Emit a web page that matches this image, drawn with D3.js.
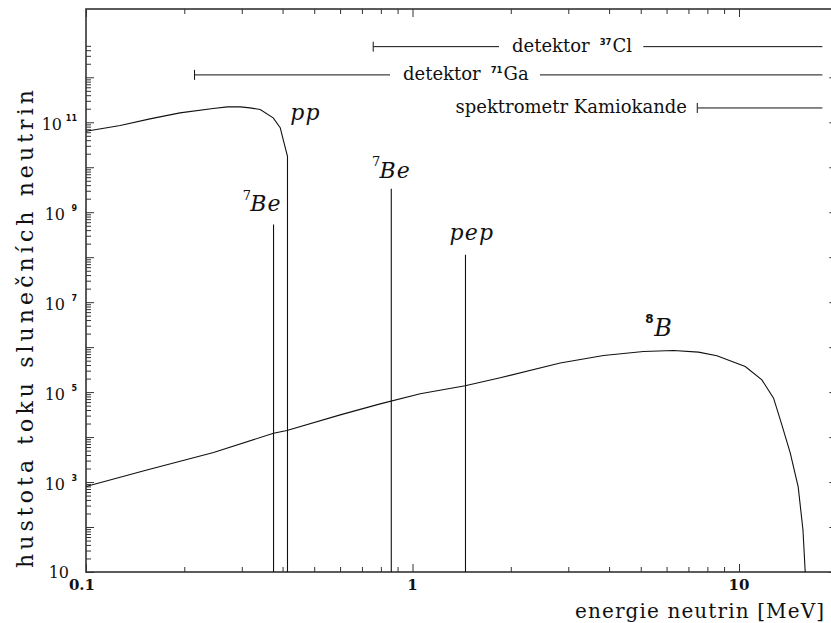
<!DOCTYPE html>
<html><head><meta charset="utf-8">
<script src="https://cdn.jsdelivr.net/npm/d3@7"></script>
<style>html,body{margin:0;padding:0;background:#fff}svg{display:block}</style>
</head><body>
<svg id="c" width="831" height="623"></svg>
<script>
// ---------- data ----------
const ppEnergy = [0.1, 0.1273, 0.157, 0.194, 0.245, 0.271, 0.297, 0.318, 0.3416, 0.3744, 0.3934, 0.4018, 0.4141, 0.4141];
const ppFlux   = [6.3e10, 8.45e10, 1.19e11, 1.62e11, 2.02e11, 2.2e11, 2.2e11, 2.09e11, 1.92e11, 1.25e11, 7.6e10, 4.1e10, 1.75e10, 10];

const b8Energy = [0.1, 0.1536, 0.2458, 0.3753, 0.4124, 0.6006, 0.796, 1.056, 1.45, 1.856, 2.834, 3.846, 5.099, 6.30, 7.516, 8.556, 10.45, 11.75, 12.76, 13.47, 14.35, 15.18, 15.70, 15.95];
const b8Flux   = [800, 1862, 4520, 12200, 13960, 31200, 54800, 91600, 138000, 208000, 442000, 652000, 800000, 841000, 776000, 641000, 371000, 187000, 73400, 20700, 4450, 780, 86, 10];

const lineNames  = ["7Be", "7Be", "pep"];
const lineEnergy = [0.3753, 0.861, 1.453];
const lineFlux   = [5.3e8, 3.34e9, 1.14e8];

const labelText   = ["pp", "Be", "Be", "pep", "B"];
const labelSup    = ["", "7", "7", "", "8"];
const labelEnergy = [0.422, 0.302, 0.751, 1.298, 5.16];
const labelFlux   = [1.11e11, 1.04e9, 5.9e9, 2.45e8, 1.73e6];

const detName    = ["detektor", "detektor", "spektrometr Kamiokande"];
const detIsotope = ["37", "71", ""];
const detElement = ["Cl", "Ga", ""];
const detFrom    = [0.758, 0.215, 7.45];
const detTo      = [18, 18, 18];
const detFlux    = [4.8e12, 1.13e12, 2.08e11];

const xMajorTicks = [0.1, 1, 10];
const xMinorTicks = [0.2,0.3,0.4,0.5,0.6,0.7,0.8,0.9,2,3,4,5,6,7,8,9,20];
const xTickLabels = ["0.1", "1", "10"];
const yMajorTicks = [1e1,1e2,1e3,1e4,1e5,1e6,1e7,1e8,1e9,1e10,1e11,1e12];
const yLabelExp   = [1, 3, 5, 7, 9, 11];
const yMinorTicks = [];
for (let d = 1; d <= 11; d++) for (let k = 2; k <= 9; k++) yMinorTicks.push(k * Math.pow(10, d));
[2,3,4,5].forEach(k => yMinorTicks.push(k * 1e12));

const xTitle = "energie neutrin [MeV]";
const yTitle = "hustota toku slunečních neutrin";

// ---------- scales ----------
const L = 86, R = 837.3, T = 9, B = 572;
const x = d3.scaleLog().domain([0.1, 20]).range([L, R]);
const y = d3.scaleLog().domain([10, 3.3e13]).range([B, T]);

const svg = d3.select("#c");
svg.append("rect").attr("width", 831).attr("height", 623).attr("fill", "#fff");

const serif = "'DejaVu Serif', serif";
const ink = "#111";
const axisInk = "#333";

// ---------- axes (ticks inward) ----------
function strip(g){ g.select(".domain").remove(); g.selectAll("text").remove();
  g.selectAll("line").attr("stroke", axisInk).attr("stroke-width", 1); }

svg.append("g").attr("transform", `translate(${L},0)`)
  .call(d3.axisLeft(y).tickValues(yMajorTicks).tickSize(-8).tickSizeOuter(0)).call(strip);
svg.append("g").attr("transform", `translate(${L},0)`)
  .call(d3.axisLeft(y).tickValues(yMinorTicks).tickSize(-5).tickSizeOuter(0)).call(strip);
svg.append("g").attr("transform", `translate(${R},0)`)
  .call(d3.axisRight(y).tickValues(yMajorTicks).tickSize(-8).tickSizeOuter(0)).call(strip);
svg.append("g").attr("transform", `translate(${R},0)`)
  .call(d3.axisRight(y).tickValues(yMinorTicks).tickSize(-5).tickSizeOuter(0)).call(strip);
svg.append("g").attr("transform", `translate(0,${B})`)
  .call(d3.axisBottom(x).tickValues(xMajorTicks).tickSize(-8).tickSizeOuter(0)).call(strip);
svg.append("g").attr("transform", `translate(0,${B})`)
  .call(d3.axisBottom(x).tickValues(xMinorTicks).tickSize(-5).tickSizeOuter(0)).call(strip);
svg.append("g").attr("transform", `translate(0,${T})`)
  .call(d3.axisTop(x).tickValues(xMajorTicks).tickSize(-8).tickSizeOuter(0)).call(strip);
svg.append("g").attr("transform", `translate(0,${T})`)
  .call(d3.axisTop(x).tickValues(xMinorTicks).tickSize(-5).tickSizeOuter(0)).call(strip);

// frame
svg.append("rect").attr("x", L).attr("y", T).attr("width", R - L).attr("height", B - T)
  .attr("fill", "none").attr("stroke", axisInk).attr("stroke-width", 1.6);

// y tick labels
yLabelExp.forEach(e => {
  const ty = y(Math.pow(10, e));
  if (e === 1) {
    svg.append("text").attr("x", 69).attr("y", ty + 6).attr("text-anchor", "end")
      .attr("font-family", serif).attr("font-size", 16).attr("fill", ink).text("10");
  } else {
    const sup = String(e);
    svg.append("text").attr("x", 77).attr("y", ty - 1.5).attr("text-anchor", "end")
      .attr("font-family", "'DejaVu Sans', sans-serif").attr("font-weight", "bold")
      .attr("font-size", 8).attr("fill", ink).text(sup);
    svg.append("text").attr("x", sup.length > 1 ? 62 : 65).attr("y", ty + 7.5).attr("text-anchor", "end")
      .attr("font-family", serif).attr("font-size", 16).attr("fill", ink).text("10");
  }
});

// x tick labels
xMajorTicks.forEach((v, i) => {
  svg.append("text").attr("x", x(v) + (i === 0 ? -4 : 0)).attr("y", 590)
    .attr("text-anchor", "middle").attr("font-family", serif).attr("font-weight", "bold")
    .attr("font-size", 15).attr("fill", ink).text(xTickLabels[i]);
});

// axis titles
svg.append("text").attr("x", 575).attr("y", 618)
  .attr("font-family", serif).attr("font-size", 20).attr("fill", ink)
  .attr("textLength", 249).attr("lengthAdjust", "spacing").text(xTitle);
svg.append("text").attr("transform", "translate(32.5,568) rotate(-90)")
  .attr("font-family", serif).attr("font-size", 22).attr("fill", ink)
  .attr("textLength", 478).attr("lengthAdjust", "spacing").text(yTitle);

// ---------- curves ----------
const line = d3.line().x(d => x(d[0])).y(d => y(d[1]));
svg.append("path").attr("d", line(ppEnergy.map((e, i) => [e, ppFlux[i]])))
  .attr("fill", "none").attr("stroke", ink).attr("stroke-width", 1.1);
svg.append("path").attr("d", line(b8Energy.map((e, i) => [e, b8Flux[i]])))
  .attr("fill", "none").attr("stroke", ink).attr("stroke-width", 1.1);

// mono-energetic lines
lineEnergy.forEach((e, i) => {
  svg.append("line").attr("x1", x(e)).attr("x2", x(e)).attr("y1", y(lineFlux[i])).attr("y2", B)
    .attr("stroke", ink).attr("stroke-width", 1.1).attr("class", "line-" + lineNames[i]);
});

// labels
labelText.forEach((t, i) => {
  const lx = x(labelEnergy[i]), ly = y(labelFlux[i]);
  let off = 0;
  if (labelSup[i]) {
    const big = labelSup[i] === "8";
    svg.append("text").attr("x", lx).attr("y", ly - (big ? 13.5 : 11.5))
      .attr("font-family", big ? "'DejaVu Sans', sans-serif" : serif)
      .attr("font-weight", big ? "bold" : "normal")
      .attr("font-size", big ? 12 : 13).attr("fill", ink).text(labelSup[i]);
    off = big ? 9 : 7.5;
  }
  svg.append("text").attr("x", lx + off).attr("y", ly)
    .attr("font-family", serif).attr("font-style", "italic")
    .attr("font-size", labelSup[i] === "8" ? 24 : 22).attr("letter-spacing", 1.2)
    .attr("fill", ink).text(t);
});

// ---------- detector ranges ----------
const detTextStart = [512, 403, null];
const detTextEnd   = [null, null, 687];
detName.forEach((nm, i) => {
  const ly = y(detFlux[i]);
  const tx = svg.append("text").attr("y", ly + 5.5)
    .attr("font-family", serif).attr("font-size", 18).attr("fill", ink);
  tx.append("tspan").text(nm);
  if (detIsotope[i]) {
    tx.append("tspan").attr("dx", 10).attr("dy", -7).attr("font-family", "'DejaVu Sans', sans-serif")
      .attr("font-weight", "bold").attr("font-size", 8.5).text(detIsotope[i]);
    tx.append("tspan").attr("dx", 1).attr("dy", 7).text(detElement[i]);
  }
  if (detTextStart[i] != null) tx.attr("x", detTextStart[i]);
  else tx.attr("x", detTextEnd[i]).attr("text-anchor", "end");
  const bb = tx.node().getBBox();
  const x0 = x(detFrom[i]), x1 = x(detTo[i]);
  const segs = [];
  if (x0 < bb.x) segs.push([x0, bb.x - 13]);
  segs.push([Math.max(x0, bb.x + bb.width + 11), x1]);
  segs.forEach(s => svg.append("line").attr("x1", s[0]).attr("x2", s[1]).attr("y1", ly).attr("y2", ly)
    .attr("stroke", ink).attr("stroke-width", 1));
  svg.append("line").attr("x1", x0).attr("x2", x0).attr("y1", ly - 5).attr("y2", ly + 5)
    .attr("stroke", ink).attr("stroke-width", 1);
});
</script>
</body></html>
